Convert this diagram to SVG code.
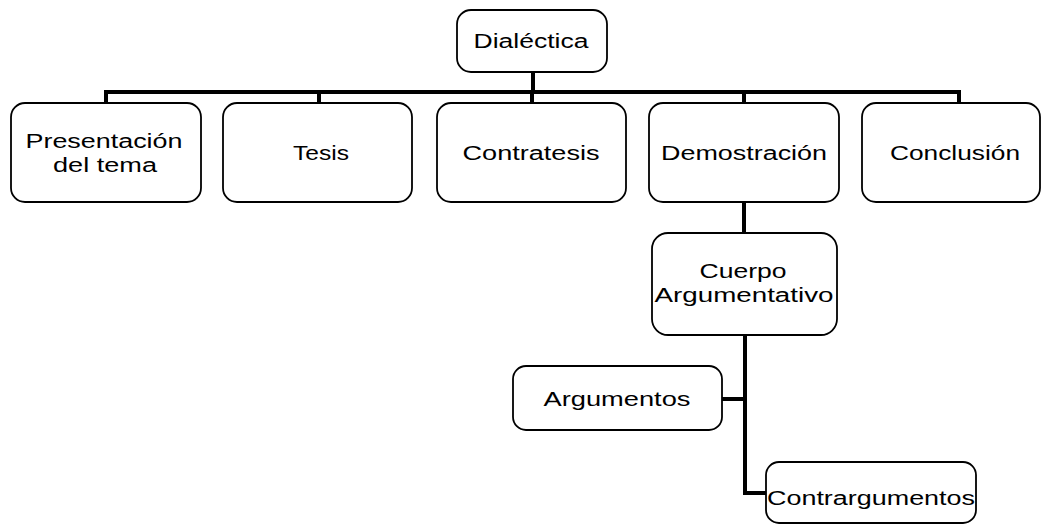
<svg xmlns="http://www.w3.org/2000/svg" width="1043" height="525" viewBox="0 0 1043 525">
<style>
.box{fill:#fff;stroke:#000;stroke-width:1.8}
.lbl{font-family:"Liberation Sans",Arial,sans-serif;font-size:20px;fill:#000;text-anchor:middle}
.con{fill:none;stroke:#000;stroke-width:4;stroke-linejoin:miter;stroke-linecap:butt}
</style>
<rect width="1043" height="525" fill="#fff"/>
<g id="connectors">
<path class="con" d="M533 72V92M106 104V92H959V104M319 92V104M532 92V104M744 92V104"/>
<path class="con" d="M744 202V234"/>
<path class="con" d="M745 335V493H767M722 399H745"/>
</g>
<g id="n-dialectica"><rect class="box" x="457" y="10" width="150" height="62" rx="14"/><text class="lbl" x="531" y="48" textLength="115" lengthAdjust="spacingAndGlyphs">Dialéctica</text></g>
<g id="n-presentacion"><rect class="box" x="11" y="103" width="190" height="99" rx="14"/><text class="lbl" x="104" y="148" textLength="157" lengthAdjust="spacingAndGlyphs">Presentación</text><text class="lbl" x="105" y="172" textLength="104" lengthAdjust="spacingAndGlyphs">del tema</text></g>
<g id="n-tesis"><rect class="box" x="223" y="103" width="189" height="99" rx="14"/><text class="lbl" x="321" y="160" textLength="56" lengthAdjust="spacingAndGlyphs">Tesis</text></g>
<g id="n-contratesis"><rect class="box" x="437" y="103" width="189" height="99" rx="14"/><text class="lbl" x="531" y="160" textLength="137" lengthAdjust="spacingAndGlyphs">Contratesis</text></g>
<g id="n-demostracion"><rect class="box" x="649" y="103" width="190" height="99" rx="14"/><text class="lbl" x="744" y="160" textLength="166" lengthAdjust="spacingAndGlyphs">Demostración</text></g>
<g id="n-conclusion"><rect class="box" x="862" y="103" width="178" height="99" rx="14"/><text class="lbl" x="955" y="160" textLength="130" lengthAdjust="spacingAndGlyphs">Conclusión</text></g>
<g id="n-cuerpo"><rect class="box" x="652" y="233" width="185" height="102" rx="16"/><text class="lbl" x="743" y="278" textLength="87" lengthAdjust="spacingAndGlyphs">Cuerpo</text><text class="lbl" x="744" y="302" textLength="179" lengthAdjust="spacingAndGlyphs">Argumentativo</text></g>
<g id="n-argumentos"><rect class="box" x="513" y="366" width="209" height="64" rx="13"/><text class="lbl" x="617" y="406" textLength="147" lengthAdjust="spacingAndGlyphs">Argumentos</text></g>
<g id="n-contrargumentos"><rect class="box" x="766" y="462" width="210" height="61" rx="13"/><text class="lbl" x="871" y="505" textLength="208" lengthAdjust="spacingAndGlyphs">Contrargumentos</text></g>
</svg>
